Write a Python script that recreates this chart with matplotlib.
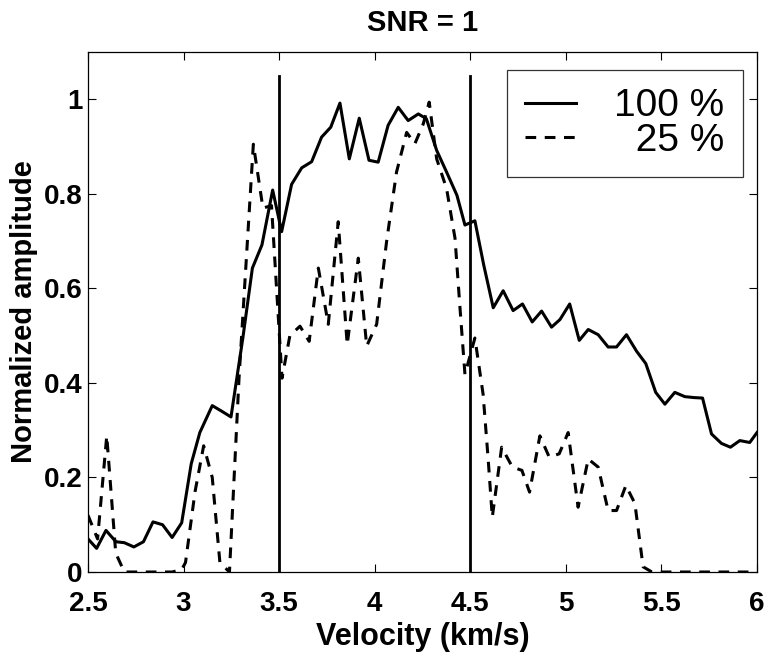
import matplotlib
matplotlib.use("Agg")
import matplotlib.pyplot as plt

plt.rcParams['font.family'] = ['Liberation Sans', 'DejaVu Sans']

# 100 % curve (solid)
vel_full = [2.50, 2.545, 2.594, 2.646, 2.69, 2.74, 2.79, 2.84, 2.89, 2.94, 2.99,
            3.04, 3.085, 3.15, 3.20, 3.248, 3.31, 3.36, 3.41, 3.466, 3.513,
            3.565, 3.618, 3.67, 3.722, 3.77, 3.818, 3.867, 3.919, 3.97, 4.018,
            4.07, 4.123, 4.175, 4.228, 4.27, 4.324, 4.376, 4.43, 4.472, 4.524,
            4.57, 4.62, 4.672, 4.724, 4.773, 4.824, 4.873, 4.925, 4.969, 5.02,
            5.07, 5.117, 5.169, 5.221, 5.265, 5.317, 5.37, 5.418, 5.47, 5.518,
            5.57, 5.622, 5.67, 5.715, 5.762, 5.814, 5.861, 5.91, 5.962, 6.0]
amp_full = [0.07, 0.05, 0.088, 0.064, 0.062, 0.053, 0.064, 0.106, 0.10, 0.073, 0.104,
            0.229, 0.295, 0.352, 0.34, 0.328, 0.495, 0.643, 0.692, 0.808, 0.72,
            0.82, 0.855, 0.868, 0.92, 0.941, 0.992, 0.874, 0.96, 0.871, 0.867,
            0.945, 0.983, 0.955, 0.969, 0.959, 0.892, 0.846, 0.797, 0.734, 0.743,
            0.65, 0.559, 0.595, 0.553, 0.567, 0.529, 0.552, 0.518, 0.534, 0.567,
            0.49, 0.513, 0.502, 0.476, 0.476, 0.502, 0.467, 0.441, 0.38, 0.355,
            0.38, 0.371, 0.369, 0.368, 0.292, 0.272, 0.264, 0.278, 0.274, 0.295]

# 25 % curve (dashed)
vel_25 = [2.50, 2.55, 2.598, 2.645, 2.69, 2.74, 2.79, 2.84, 2.89, 2.94, 2.99,
          3.01, 3.06, 3.105, 3.15, 3.19, 3.24, 3.29, 3.365, 3.415, 3.46, 3.515,
          3.556, 3.609, 3.657, 3.705, 3.757, 3.809, 3.856, 3.914, 3.958, 4.01,
          4.062, 4.114, 4.167, 4.21, 4.254, 4.285, 4.324, 4.376, 4.42, 4.446,
          4.472, 4.524, 4.567, 4.594, 4.615, 4.664, 4.72, 4.77, 4.81, 4.864,
          4.913, 4.965, 5.012, 5.064, 5.117, 5.169, 5.221, 5.265, 5.314, 5.361,
          5.404, 5.45, 5.5, 5.6, 5.7, 5.8, 5.9, 6.0]
amp_25 = [0.12, 0.07, 0.288, 0.04, 0.0, 0.0, 0.0, 0.0, 0.0, 0.0, 0.005,
          0.02, 0.17, 0.267, 0.2, 0.02, 0.0, 0.41, 0.905, 0.77, 0.775, 0.41,
          0.50, 0.52, 0.488, 0.643, 0.524, 0.741, 0.481, 0.664, 0.478, 0.524,
          0.699, 0.846, 0.93, 0.906, 0.948, 0.994, 0.874, 0.811, 0.706, 0.559,
          0.418, 0.495, 0.376, 0.236, 0.116, 0.264, 0.222, 0.215, 0.169, 0.288,
          0.243, 0.25, 0.295, 0.137, 0.239, 0.222, 0.13, 0.13, 0.183, 0.145,
          0.011, 0.0, 0.0, 0.0, 0.0, 0.0, 0.0, 0.0]

window = [3.5, 4.5]
window_top = 1.05

xticks = [2.5, 3, 3.5, 4, 4.5, 5, 5.5, 6]
xticklabels = ['2.5', '3', '3.5', '4', '4.5', '5', '5.5', '6']
yticks = [0, 0.2, 0.4, 0.6, 0.8, 1]
yticklabels = ['0', '0.2', '0.4', '0.6', '0.8', '1']

fig = plt.figure(figsize=(7.68, 6.52), dpi=100)
ax = fig.add_axes([0.1146, 0.1227, 0.8711, 0.7975])

ax.plot(vel_full, amp_full, color='black', lw=2.2, label='100 %')
ax.plot(vel_25, amp_25, color='black', lw=2.2, ls=(0, (3.5, 2.8)), label='\u200725 %')
for v in window:
    ax.plot([v, v], [0, window_top], color='black', lw=2.0)

ax.set_xlim(2.5, 6)
ax.set_ylim(0, 1.1)
ax.set_xticks(xticks)
ax.set_xticklabels(xticklabels)
ax.set_yticks(yticks)
ax.set_yticklabels(yticklabels)
ax.tick_params(direction='in', length=6, width=0.8, top=True, right=True,
               labelsize=20)
ax.tick_params(axis='x', pad=14)
ax.tick_params(axis='y', pad=4)
for lab in ax.get_xticklabels() + ax.get_yticklabels():
    lab.set_fontweight('bold')
for sp in ax.spines.values():
    sp.set_linewidth(0.9)

ax.set_xlabel('Velocity (km/s)', fontsize=22, fontweight='bold', labelpad=3)
ax.set_ylabel('Normalized amplitude', fontsize=21, fontweight='bold', labelpad=4)
ax.set_title('SNR = 1', fontsize=21, fontweight='bold', pad=15)

leg = ax.legend(loc='upper right', bbox_to_anchor=(0.979, 0.9654), borderaxespad=0,
                fontsize=28, frameon=True, fancybox=False, edgecolor='black',
                handlelength=1.3, handletextpad=1.0, borderpad=0.47,
                labelspacing=-0.04)
leg.get_frame().set_linewidth(0.9)

fig.savefig('out.png', dpi=100)
